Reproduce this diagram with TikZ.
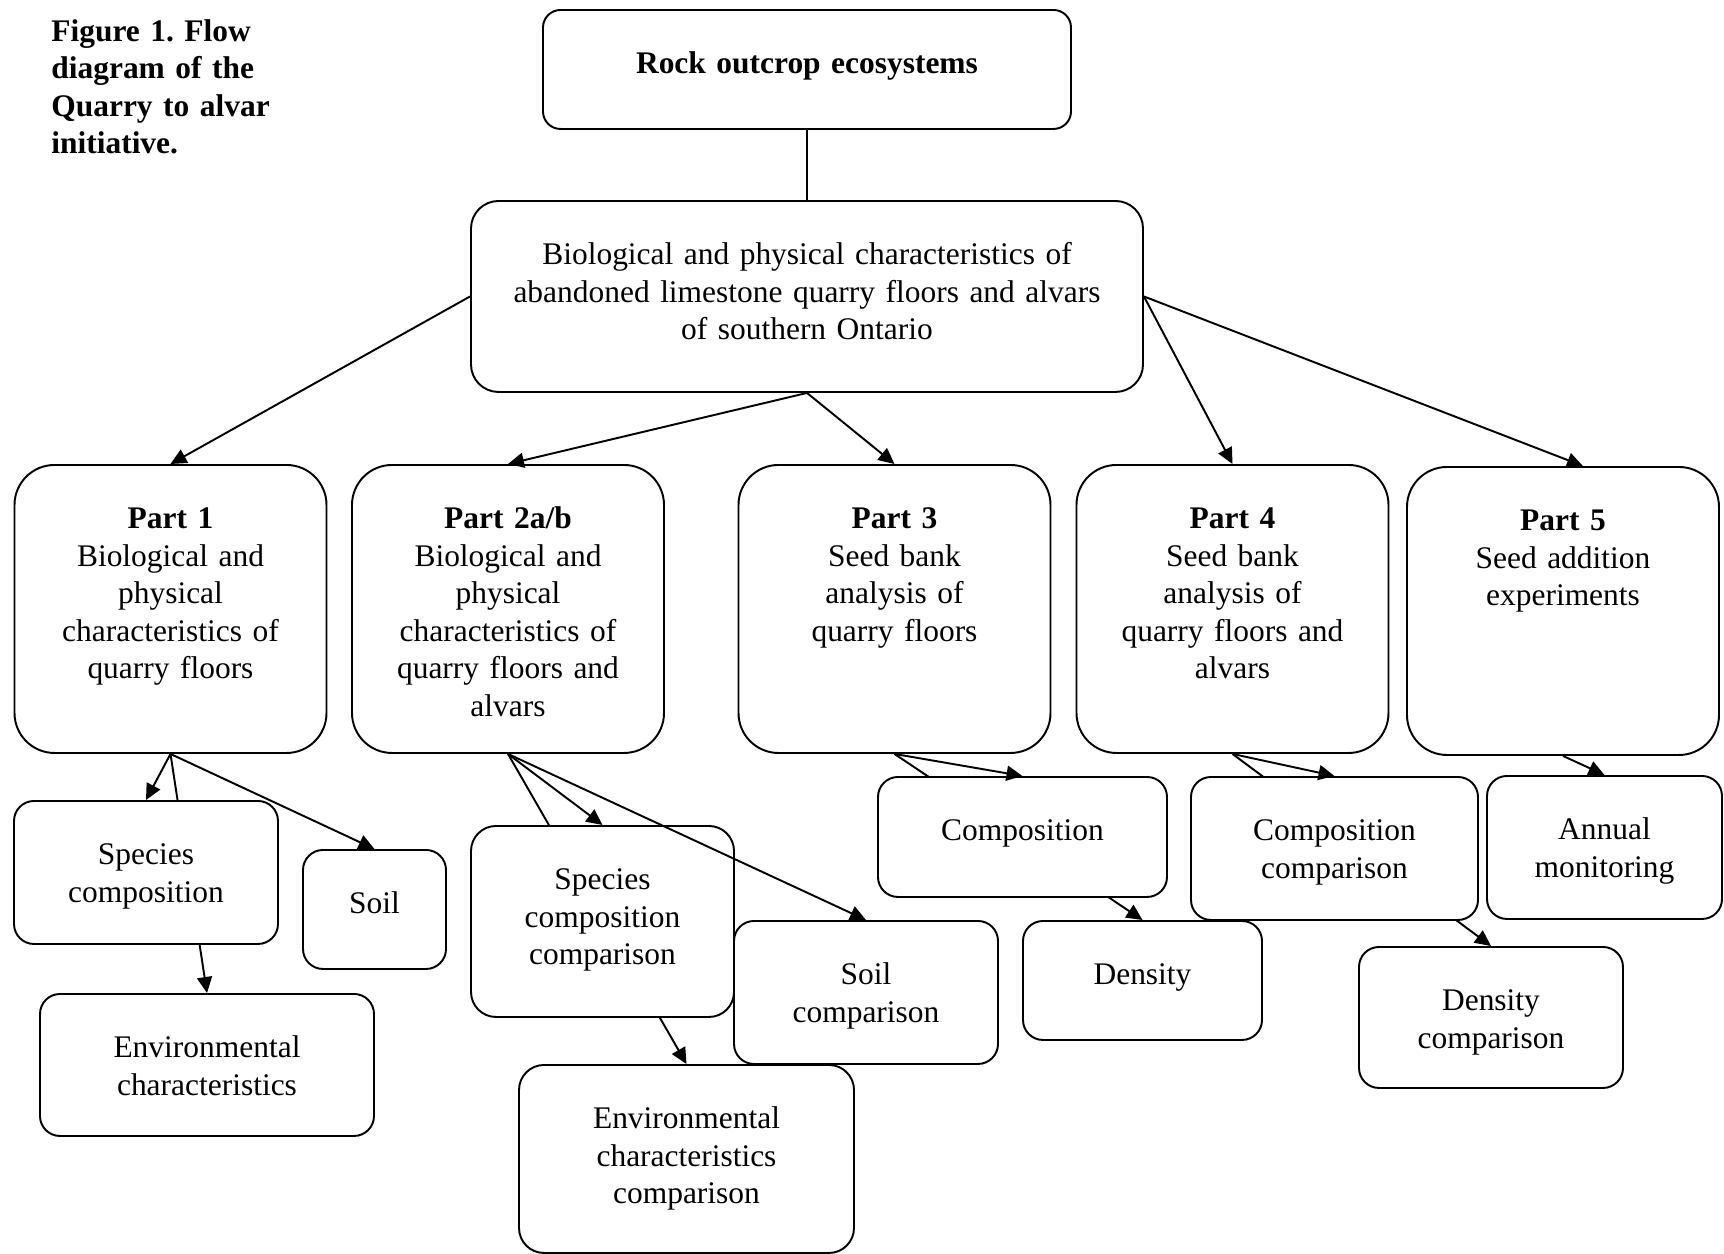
\documentclass[tikz,border=0pt]{standalone}
\usepackage{fontspec}
\setmainfont{Liberation Serif}
\frenchspacing
\usetikzlibrary{arrows.meta,backgrounds}

\begin{document}
\begin{tikzpicture}[
        font=\fontsize{17.9}{21.3}\selectfont,
        box/.style={draw, fill=white, line width=1.1pt, rounded corners=0.4cm,
            align=center, inner sep=0pt, text height=1.28cm, anchor=north},
        partbox/.style={box, rounded corners=0.8cm, text width=6.24cm, text depth=4.48cm},
        arr/.style={line width=1.1pt, -{Triangle[length=0.32cm,width=0.3cm]}},
        link/.style={line width=1.1pt}
    ]
        % Page frame
        \useasboundingbox (0,0) rectangle (34.48,-25.08);

        % Caption
        \node[anchor=north west, align=left, text width=6cm, inner sep=0pt, text height=0.82cm,
            font=\fontsize{17.9}{21.3}\selectfont\bfseries] (title) at (1.02,0)
            {Figure 1. Flow\\ diagram of the\\ Quarry to alvar\\ initiative.};

        % Top of the tree
        \node[box, text width=10.56cm, text depth=1.10cm, rounded corners=0.35cm] (rock) at (16.14,-0.18)
            {\textbf{Rock outcrop ecosystems}};
        \node[box, text width=13.44cm, text depth=2.54cm, rounded corners=0.55cm] (big) at (16.14,-4.00)
            {Biological and physical characteristics of\\ abandoned limestone quarry floors and alvars\\ of southern Ontario};

        % The five parts
        \node[partbox] (p1) at (3.41,-9.28) {\textbf{Part 1}\\ Biological and\\ physical\\ characteristics of\\ quarry floors};
        \node[partbox] (p2) at (10.16,-9.28) {\textbf{Part 2a/b}\\ Biological and\\ physical\\ characteristics of\\ quarry floors and\\ alvars};
        \node[partbox] (p3) at (17.89,-9.28) {\textbf{Part 3}\\ Seed bank\\ analysis of\\ quarry floors};
        \node[partbox] (p4) at (24.65,-9.28) {\textbf{Part 4}\\ Seed bank\\ analysis of\\ quarry floors and\\ alvars};
        \node[partbox] (p5) at (31.26,-9.32) {\textbf{Part 5}\\ Seed addition\\ experiments};

        % Measurements under each part
        \node[box, text width=5.28cm, text depth=1.58cm] (spc) at (2.92,-16.00) {Species\\ composition};
        \node[box, text width=2.86cm, text depth=1.10cm] (soil) at (7.49,-16.98) {Soil};
        \node[box, text width=6.68cm, text depth=1.56cm] (env) at (4.14,-19.86) {Environmental\\ characteristics};
        \node[box, text width=5.26cm, text depth=2.54cm, rounded corners=0.5cm] (spcc) at (12.05,-16.50) {Species\\ composition\\ comparison};
        \node[box, text width=5.28cm, text depth=1.58cm] (soilc) at (17.32,-18.40) {Soil\\ comparison};
        \node[box, text width=6.70cm, text depth=2.48cm, rounded corners=0.5cm] (envc) at (13.73,-21.28) {Environmental\\ characteristics\\ comparison};
        \node[box, text width=5.78cm, text depth=1.12cm] (comp) at (20.45,-15.52) {Composition};
        \node[box, text width=4.78cm, text depth=1.10cm] (dens) at (22.85,-18.40) {Density};
        \node[box, text width=5.74cm, text depth=1.58cm] (compc) at (26.69,-15.52) {Composition\\ comparison};
        \node[box, text width=4.70cm, text depth=1.58cm] (annual) at (32.09,-15.50) {Annual\\ monitoring};
        \node[box, text width=5.28cm, text depth=1.54cm] (densc) at (29.82,-18.92) {Density\\ comparison};

        % Arrow into Part 5 lands right of its middle
        \coordinate (p5in) at ([xshift=0.4cm]p5.north);

        % Connectors
        \draw[link] (rock.south) -- (big.north);
        \foreach \a/\b in {big.west/p1.north, big.south/p2.north, big.south/p3.north,
                big.east/p4.north, big.east/p5in,
                p1.south/spc.north, p1.south/soil.north,
                p2.south/spcc.north, p2.south/soilc.north,
                p3.south/comp.north, p4.south/compc.north, p5.south/annual.north}{
            \draw[arr] (\a) -- (\b);
        }

        % These run behind the boxes in between
        \begin{pgfonlayer}{background}
            \foreach \a/\b in {p1.south/env.north, p2.south/envc.north,
                    p3.south/dens.north, p4.south/densc.north}{
                \draw[arr] (\a) -- (\b);
            }
        \end{pgfonlayer}
    \end{tikzpicture}
\end{document}
